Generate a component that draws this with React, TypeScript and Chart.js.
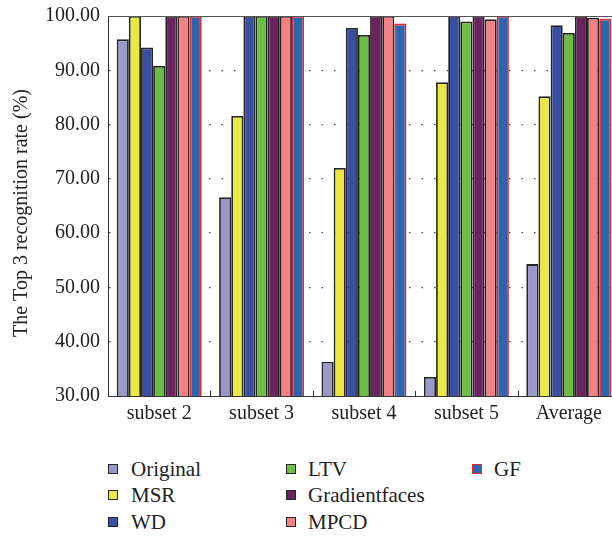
import React, { useEffect, useRef } from "react";
import { Chart, registerables } from "chart.js";

Chart.register(...registerables);

const categories = ["subset 2", "subset 3", "subset 4", "subset 5", "Average"];
const seriesNames = ["Original", "MSR", "WD", "LTV", "Gradientfaces", "MPCD", "GF"];
const original = [95.7, 66.6, 36.3, 33.5, 54.3];
const msr = [100, 81.6, 72.0, 87.8, 85.2];
const wd = [94.2, 100, 97.8, 100, 98.3];
const ltv = [90.8, 100, 96.5, 99.0, 96.9];
const gradientfaces = [100, 100, 100, 100, 100];
const mpcd = [100, 100, 100, 99.4, 99.7];
const gf = [100, 100, 98.6, 100, 99.5];
const yMin = 30;
const yMax = 100;
const yStep = 10;
const yTitle = "The Top 3 recognition rate (%)";

const seriesValues = [original, msr, wd, ltv, gradientfaces, mpcd, gf];
const fillColors = ["#9898c9", "#ece843", "#3a4fa1", "#6cbd45", "#6b2360", "#f28283", "#2c66b1"];
const borderColors = ["#262626", "#262626", "#262626", "#262626", "#262626", "#262626", "#e8262b"];

const FONT = "'Liberation Serif', 'Times New Roman', serif";

const framePlugin = {
  id: "frame",
  afterDatasetsDraw(chart: any) {
    const { ctx, chartArea, scales } = chart;
    const x = scales.x;
    ctx.save();
    ctx.strokeStyle = "#555555";
    ctx.lineWidth = 1.2;
    ctx.beginPath();
    ctx.moveTo(chartArea.left, chartArea.top + 0.5);
    ctx.lineTo(chartArea.right, chartArea.top + 0.5);
    ctx.stroke();
    ctx.strokeStyle = "#333333";
    ctx.lineWidth = 1;
    const n = categories.length;
    for (let i = 1; i < n; i++) {
      const px = Math.round((x.getPixelForValue(i - 1) + x.getPixelForValue(i)) / 2) + 0.5;
      ctx.beginPath();
      ctx.moveTo(px, chartArea.bottom);
      ctx.lineTo(px, chartArea.bottom - 5);
      ctx.stroke();
    }
    // y-axis title
    ctx.fillStyle = "#222222";
    ctx.font = `20px ${FONT}`;
    ctx.textAlign = "center";
    ctx.textBaseline = "middle";
    ctx.translate(22, 213);
    ctx.rotate(-Math.PI / 2);
    ctx.fillText(yTitle, 0, 0);
    ctx.restore();
  },
};

export default function App() {
  const ref = useRef<HTMLCanvasElement | null>(null);
  useEffect(() => {
    if (!ref.current) return;
    const chart = new Chart(ref.current, {
      type: "bar",
      data: {
        labels: categories,
        datasets: seriesNames.map((name, i) => ({
          label: name,
          data: seriesValues[i],
          backgroundColor: fillColors[i],
          borderColor: borderColors[i],
          borderWidth: 1.8,
          borderSkipped: false,
          categoryPercentage: 0.83,
          barPercentage: 1,
        })),
      },
      options: {
        animation: false,
        responsive: true,
        maintainAspectRatio: false,
        layout: { padding: { top: 16, right: 0, left: 0, bottom: 0 } },
        plugins: { legend: { display: false }, tooltip: { enabled: false } },
        scales: {
          x: {
            grid: { display: false, drawTicks: false, tickLength: 0 },
            border: { display: true, color: "#333333", width: 1 },
            ticks: { font: { family: FONT, size: 20 }, color: "#222222", padding: 6 },
            afterFit: (s: any) => {
              s.height = 37;
              s.paddingLeft = 0;
              s.paddingRight = 0;
            },
          },
          y: {
            min: yMin,
            max: yMax,
            grid: {
              color: (c: any) => (c.tick && (c.tick.value === yMax || c.tick.value === yMin) ? "rgba(0,0,0,0)" : "#444444"),
              drawTicks: false,
              lineWidth: 1.3,
            },
            border: { display: true, color: "#333333", width: 1, dash: [1.5, 11] },
            ticks: {
              stepSize: yStep,
              font: { family: FONT, size: 20 },
              color: "#222222",
              padding: 8,
              callback: (v: any) => Number(v).toFixed(2),
            },
            title: { display: false },
            afterFit: (s: any) => {
              s.width = 108;
              s.paddingTop = 0;
              s.paddingBottom = 0;
            },
          },
        },
      },
      plugins: [framePlugin],
    });
    return () => chart.destroy();
  }, []);

  const legendCols = [
    { sq: 108, tx: 131, items: [0, 1, 2] },
    { sq: 286, tx: 308, items: [3, 4, 5] },
    { sq: 472, tx: 494, items: [6] },
  ];
  const rowY = [469, 495, 522];

  return (
    <div style={{ position: "fixed", left: 0, top: 0, width: 612, height: 539, overflow: "hidden", background: "#fff" }}>
      <div style={{ position: "absolute", left: 0, top: 0, width: 620, height: 433 }}>
        <canvas ref={ref} />
      </div>
      {legendCols.map((col, ci) =>
        col.items.map((idx, ri) => (
          <React.Fragment key={`${ci}-${ri}`}>
            <div
              style={{
                position: "absolute",
                left: col.sq,
                top: rowY[ri] - 5,
                width: 8,
                height: 8,
                background: fillColors[idx],
                border: `1px solid ${borderColors[idx]}`,
              }}
            />
            <div
              style={{
                position: "absolute",
                left: col.tx,
                top: rowY[ri] - 13,
                height: 26,
                lineHeight: "26px",
                fontFamily: FONT,
                fontSize: 21,
                color: "#222222",
                whiteSpace: "nowrap",
              }}
            >
              {seriesNames[idx]}
            </div>
          </React.Fragment>
        ))
      )}
    </div>
  );
}
